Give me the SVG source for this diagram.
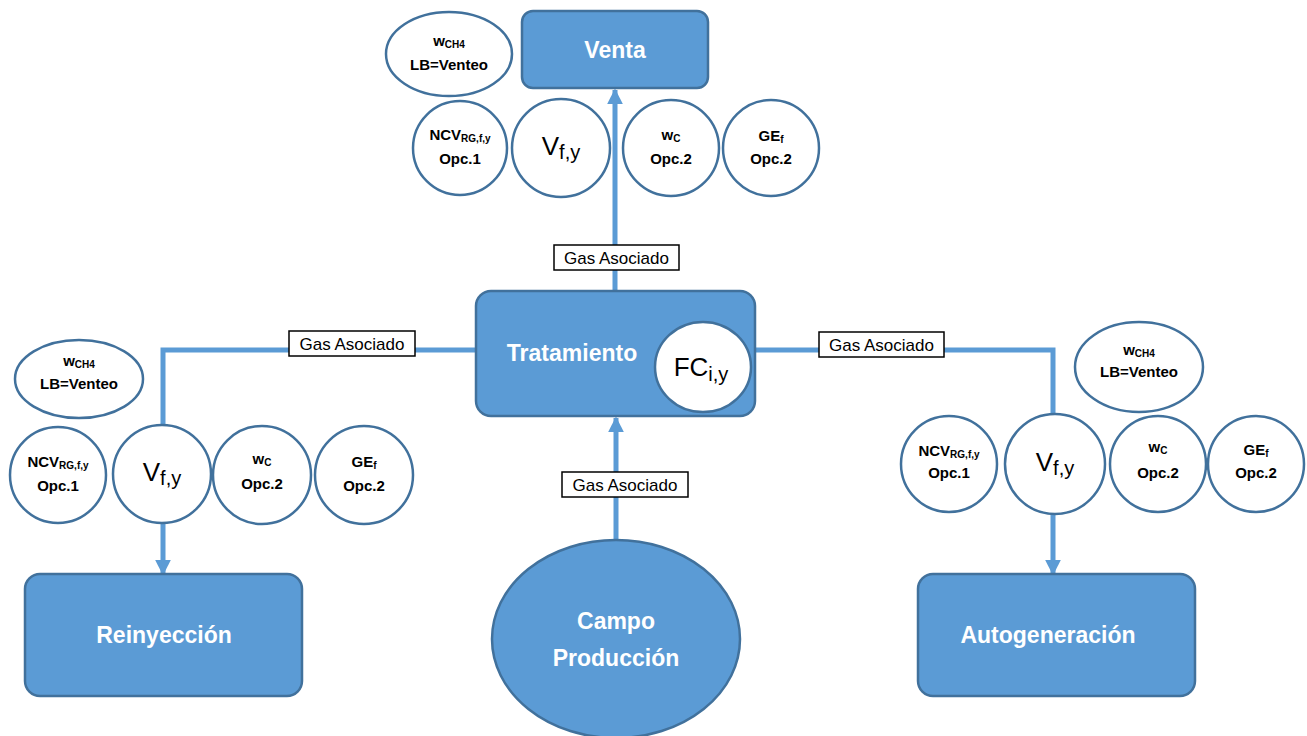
<svg xmlns="http://www.w3.org/2000/svg" width="1307" height="736" viewBox="0 0 1307 736">
<defs>
<marker id="ah" viewBox="0 0 10 10" refX="9" refY="5" markerWidth="3.2" markerHeight="3.4" orient="auto" markerUnits="strokeWidth">
<path d="M0,0 L10,5 L0,10 z" fill="#5B9BD5"/>
</marker>
<style>
.box{fill:#5B9BD5;stroke:#41719C;stroke-width:2.5}
.cir{fill:#fff;stroke:#41719C;stroke-width:2.5}
.conn{fill:none;stroke:#5B9BD5;stroke-width:5}
.lbl{fill:#fff;stroke:#000;stroke-width:1.5}
.lt{font-family:"Liberation Sans",Arial,sans-serif;font-size:17px;fill:#000;text-anchor:middle}
.bt{font-family:"Liberation Sans",Arial,sans-serif;font-size:23px;font-weight:bold;fill:#fff;text-anchor:middle}
.ct{font-family:"Liberation Sans",Arial,sans-serif;font-size:15px;font-weight:bold;fill:#000;text-anchor:middle}
.sb{font-size:10px}
.vt{font-family:"Liberation Sans",Arial,sans-serif;font-size:26px;fill:#000;text-anchor:middle}
.vs{font-size:20px}
</style>
</defs>
<g id="connectors">
<path class="conn" d="M615,291 L615,90" marker-end="url(#ah)"/>
<path class="conn" d="M475,350 L163,350 L163,574" marker-end="url(#ah)"/>
<path class="conn" d="M755,350 L1053,350 L1053,574" marker-end="url(#ah)"/>
<path class="conn" d="M616,540 L616,418" marker-end="url(#ah)"/>
<rect class="lbl" x="554" y="245" width="125" height="25"/>
<text class="lt" x="616.5" y="264">Gas Asociado</text>
<rect class="lbl" x="289" y="331" width="126" height="25"/>
<text class="lt" x="352" y="350">Gas Asociado</text>
<rect class="lbl" x="819" y="332" width="125" height="25"/>
<text class="lt" x="881.5" y="351">Gas Asociado</text>
<rect class="lbl" x="562" y="472" width="126" height="25"/>
<text class="lt" x="625" y="491">Gas Asociado</text>
</g>
<g id="venta">
<rect class="box" x="522" y="11" width="186" height="77" rx="11"/>
<text class="bt" x="615" y="58">Venta</text>
</g>
<g id="tratamiento">
<rect class="box" x="476" y="291" width="279" height="125" rx="15"/>
<text class="bt" x="572" y="361">Tratamiento</text>
</g>
<g id="fc">
<ellipse class="cir" cx="703" cy="367" rx="48" ry="45"/>
<text class="vt" x="701" y="376">FC<tspan class="vs" dy="5">i,y</tspan></text>
</g>
<g id="reinyeccion">
<rect class="box" x="25" y="574" width="277" height="122" rx="15"/>
<text class="bt" x="164" y="643">Reinyección</text>
</g>
<g id="autogeneracion">
<rect class="box" x="918" y="574" width="277" height="122" rx="15"/>
<text class="bt" x="1048" y="643">Autogeneración</text>
</g>
<g id="campo">
<ellipse class="box" cx="616" cy="639" rx="124" ry="99"/>
<text class="bt" x="616" y="629">Campo</text>
<text class="bt" x="616" y="666">Producción</text>
</g>
<g id="top-wch4">
<ellipse class="cir" cx="449" cy="54" rx="63" ry="42"/>
<text class="ct" x="449" y="46">w<tspan class="sb" dy="2">CH4</tspan></text>
<text class="ct" x="449" y="70">LB=Venteo</text>
</g>
<g id="top-ncv">
<circle class="cir" cx="460" cy="148" r="47"/>
<text class="ct" x="460" y="140">NCV<tspan class="sb" dy="2">RG,f,y</tspan></text>
<text class="ct" x="460" y="164">Opc.1</text>
</g>
<g id="top-v">
<circle class="cir" cx="561" cy="148" r="49"/>
<text class="vt" x="561" y="155">V<tspan class="vs" dy="4">f,y</tspan></text>
</g>
<g id="top-wc">
<circle class="cir" cx="671" cy="148" r="48"/>
<text class="ct" x="671" y="140">w<tspan class="sb" dy="2">C</tspan></text>
<text class="ct" x="671" y="164">Opc.2</text>
</g>
<g id="top-ge">
<circle class="cir" cx="771" cy="148" r="48"/>
<text class="ct" x="771" y="141">GE<tspan class="sb" dy="2">f</tspan></text>
<text class="ct" x="771" y="164">Opc.2</text>
</g>
<g id="left-wch4">
<ellipse class="cir" cx="79" cy="379" rx="64" ry="39"/>
<text class="ct" x="79" y="366">w<tspan class="sb" dy="2">CH4</tspan></text>
<text class="ct" x="79" y="389">LB=Venteo</text>
</g>
<g id="left-ncv">
<circle class="cir" cx="58" cy="475" r="48"/>
<text class="ct" x="58" y="467">NCV<tspan class="sb" dy="2">RG,f,y</tspan></text>
<text class="ct" x="58" y="491">Opc.1</text>
</g>
<g id="left-v">
<circle class="cir" cx="162" cy="474" r="49"/>
<text class="vt" x="162" y="481">V<tspan class="vs" dy="4">f,y</tspan></text>
</g>
<g id="left-wc">
<circle class="cir" cx="262" cy="475" r="49"/>
<text class="ct" x="262" y="464">w<tspan class="sb" dy="2">C</tspan></text>
<text class="ct" x="262" y="489">Opc.2</text>
</g>
<g id="left-ge">
<circle class="cir" cx="364" cy="475" r="49"/>
<text class="ct" x="364" y="467">GE<tspan class="sb" dy="2">f</tspan></text>
<text class="ct" x="364" y="491">Opc.2</text>
</g>
<g id="right-wch4">
<ellipse class="cir" cx="1139" cy="367" rx="64" ry="45"/>
<text class="ct" x="1139" y="355">w<tspan class="sb" dy="2">CH4</tspan></text>
<text class="ct" x="1139" y="377">LB=Venteo</text>
</g>
<g id="right-ncv">
<circle class="cir" cx="949" cy="464" r="48"/>
<text class="ct" x="949" y="456">NCV<tspan class="sb" dy="2">RG,f,y</tspan></text>
<text class="ct" x="949" y="478">Opc.1</text>
</g>
<g id="right-v">
<circle class="cir" cx="1055" cy="464" r="50"/>
<text class="vt" x="1055" y="471">V<tspan class="vs" dy="4">f,y</tspan></text>
</g>
<g id="right-wc">
<circle class="cir" cx="1158" cy="464" r="48"/>
<text class="ct" x="1158" y="452">w<tspan class="sb" dy="2">C</tspan></text>
<text class="ct" x="1158" y="478">Opc.2</text>
</g>
<g id="right-ge">
<circle class="cir" cx="1256" cy="464" r="48"/>
<text class="ct" x="1256" y="455">GE<tspan class="sb" dy="2">f</tspan></text>
<text class="ct" x="1256" y="478">Opc.2</text>
</g>
</svg>
